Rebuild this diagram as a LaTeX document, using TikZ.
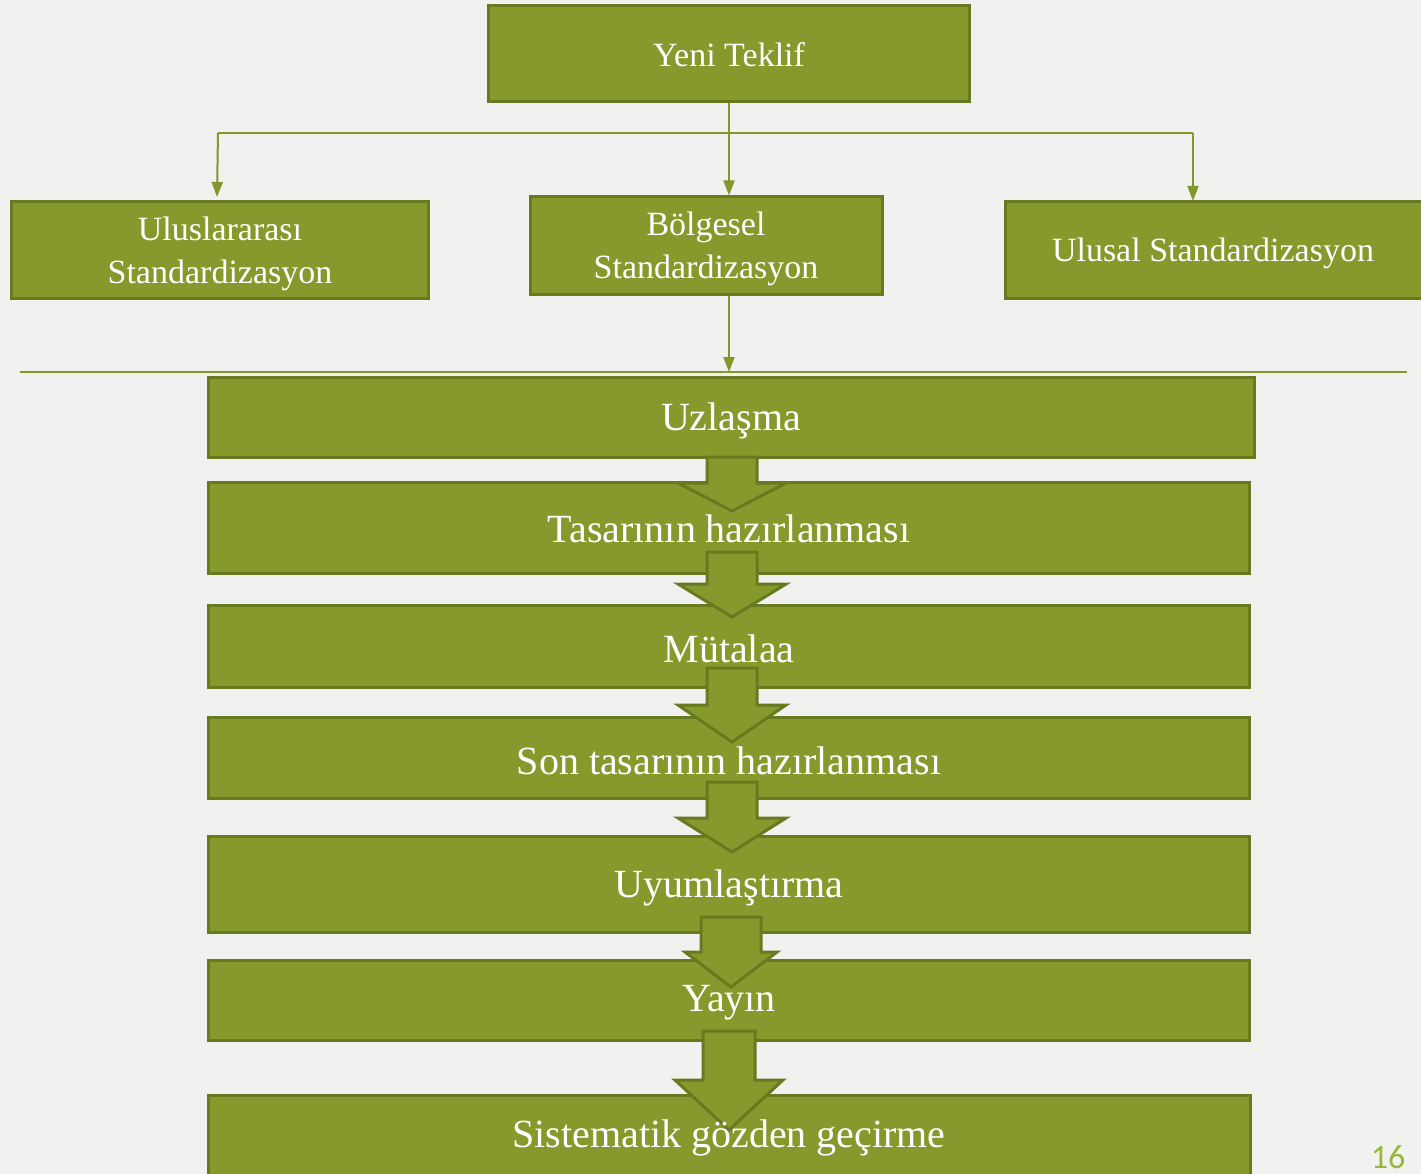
\documentclass[tikz,border=0pt]{standalone}
\usepackage{fontspec}
\setmainfont{Liberation Serif}
\newfontfamily\numfont{Carlito}
\usetikzlibrary{arrows.meta,calc}
\definecolor{boxfill}{RGB}{133,153,44}
\definecolor{boxline}{RGB}{104,122,32}
\definecolor{connline}{RGB}{128,153,42}
\definecolor{pagenum}{RGB}{150,184,58}
\definecolor{bgcol}{RGB}{241,241,240}
\tikzset{
  box/.style={draw=boxline, fill=boxfill, line width=3pt, inner sep=0pt},
  lbl/.style={text=white, inner sep=0pt, align=center},
  topfont/.style={font=\fontsize{34}{43}\selectfont},
  lowfont/.style={font=\fontsize{40}{48}\selectfont},
  conn/.style={draw=connline, line width=2pt},
  connarrow/.style={conn, -{Triangle[width=11pt,length=15pt]}},
  blockarrow/.style={draw=boxline, fill=boxfill, line width=3pt, line join=miter}
}
\newcommand{\blockarr}[6]{% cx, half shaft, top, head start, half head, tip
  \path[blockarrow] (#1-#2,#3) -- (#1+#2,#3) -- (#1+#2,#4) -- (#1+#5,#4) -- (#1,#6) -- (#1-#5,#4) -- (#1-#2,#4) -- cycle;}
\begin{document}
\begin{tikzpicture}[x=1pt,y=-1pt]
\useasboundingbox (0,0) rectangle (1421,1174);
\fill[bgcol] (0,0) rectangle (1421,1174);

% top level
\node[box, minimum width=481pt, minimum height=96pt] (yeni) at (728.5,54) {};
\node[box, minimum width=417pt, minimum height=96pt] (ulus) at (219.5,250) {};
\node[box, minimum width=352pt, minimum height=97pt] (bol) at (706,245.5) {};
\node[box, minimum width=420pt, minimum height=96pt] (nat) at (1215,250) {};
\node[lbl, topfont] (yenit) at (729,55) {Yeni Teklif};
\node[lbl, topfont] (ulust) at (220,254) {Uluslararası\\Standardizasyon};
\node[lbl, topfont] (bolt) at (706,249) {Bölgesel\\Standardizasyon};
\node[lbl, topfont] (natt) at (1213,253) {Ulusal Standardizasyon};

% connectors
\coordinate (jl) at (218,133);
\coordinate (jr) at (1193,133);
\coordinate (jm) at (729,133);
\coordinate (tl) at (217,197);
\coordinate (tr) at (1193,201);
\draw[conn] (jl) -- (jr);
\draw[connarrow] (jl) -- (tl);
\draw[connarrow] (jr) -- (tr);
\draw[connarrow] (yeni.south -| jm) -- (bol.north -| jm);
\coordinate (hl) at (20,372);
\coordinate (hr) at (1407,372);
\draw[conn] (hl) -- (hr);
\draw[connarrow] (bol.south -| jm) -- (hl -| jm);

% process steps
\node[box, minimum width=1046pt, minimum height=80pt] (s1) at (731,417) {};
\node[box, minimum width=1041pt, minimum height=91pt] (s2) at (728.5,527.5) {};
\node[box, minimum width=1041pt, minimum height=82pt] (s3) at (728.5,646) {};
\node[box, minimum width=1041pt, minimum height=81pt] (s4) at (728.5,757.5) {};
\node[box, minimum width=1041pt, minimum height=96pt] (s5) at (728.5,884) {};
\node[box, minimum width=1041pt, minimum height=80pt] (s6) at (728.5,1000) {};
\node[box, minimum width=1042pt, minimum height=86pt] (s7) at (729,1138) {};

% block arrows
\blockarr{732}{25}{457}{483}{54}{511}
\blockarr{732}{25}{552}{584}{54}{617}
\blockarr{732}{25}{668}{705}{54}{742}
\blockarr{732}{25}{782}{818}{54}{852}
\blockarr{731}{30}{917}{952}{46}{987}
\blockarr{729}{26}{1031}{1080}{54}{1130}

% texts
\node[lbl, lowfont] (s1t) at (731,421) {Uzlaşma};
\node[lbl, lowfont] (s2t) at (729,529) {Tasarının hazırlanması};
\node[lbl, lowfont] (s3t) at (729,649) {Mütalaa};
\node[lbl, lowfont] (s4t) at (729,761) {Son tasarının hazırlanması};
\node[lbl, lowfont] (s5t) at (729,888) {Uyumlaştırma};
\node[lbl, lowfont] (s6t) at (729,1003) {Yayın};
\node[lbl, lowfont] (s7t) at (729,1138) {Sistematik gözden geçirme};

\node[font=\numfont\fontsize{34}{34}\selectfont, text=pagenum, anchor=base, inner sep=0pt] (pg) at (1388,1168) {16};
\end{tikzpicture}
\end{document}
